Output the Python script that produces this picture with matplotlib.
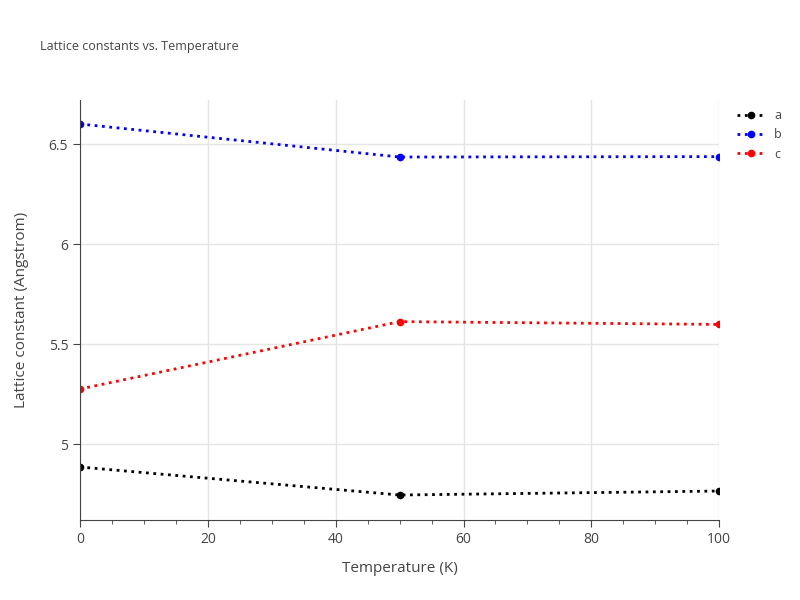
import matplotlib
matplotlib.use("Agg")
import matplotlib.pyplot as plt
from matplotlib.ticker import MultipleLocator

temps = [0, 50, 100]
a_vals = [4.885, 4.745, 4.765]
b_vals = [6.600, 6.435, 6.437]
c_vals = [5.275, 5.612, 5.598]
series = [("a", a_vals, "black"), ("b", b_vals, "blue"), ("c", c_vals, "red")]

plt.rcParams['font.family'] = ['Open Sans', 'DejaVu Sans']
tc = '#444444'
fig = plt.figure(figsize=(8, 6), dpi=100)
ax = fig.add_axes([0.1, 0.1333, 0.799, 0.7])
for name, vals, col in series:
    ax.plot(temps, vals, linestyle=':', color=col, lw=2, marker='o', ms=4.5, label=name)
ax.set_xlim(0, 100)
ax.set_ylim(4.62, 6.72)
ax.xaxis.set_major_locator(MultipleLocator(20))
ax.xaxis.set_minor_locator(MultipleLocator(5))
ax.set_yticks([5, 5.5, 6, 6.5])
ax.set_yticklabels(['5', '5.5', '6', '6.5'])
ax.grid(True, which='major', color='#e5e5e5', lw=1)
ax.set_axisbelow(True)
for s in ['top', 'right']:
    ax.spines[s].set_visible(False)
for s in ['left', 'bottom']:
    ax.spines[s].set_color(tc)
ax.tick_params(which='both', colors=tc, labelsize=10, labelcolor=tc)
ax.tick_params(which='major', length=5)
ax.tick_params(which='minor', length=3)
ax.set_xlabel('Temperature (K)', color=tc, fontsize=11, labelpad=10)
ax.set_ylabel('Lattice constant (Angstrom)', color=tc, fontsize=11, labelpad=14)
fig.text(0.05, 0.917, 'Lattice constants vs. Temperature', color=tc, fontsize=9)
leg = ax.legend(loc='upper left', bbox_to_anchor=(1.01, 1.005), frameon=False,
                fontsize=9, handlelength=2.2, labelcolor=tc)
fig.savefig('out.png', dpi=100)
